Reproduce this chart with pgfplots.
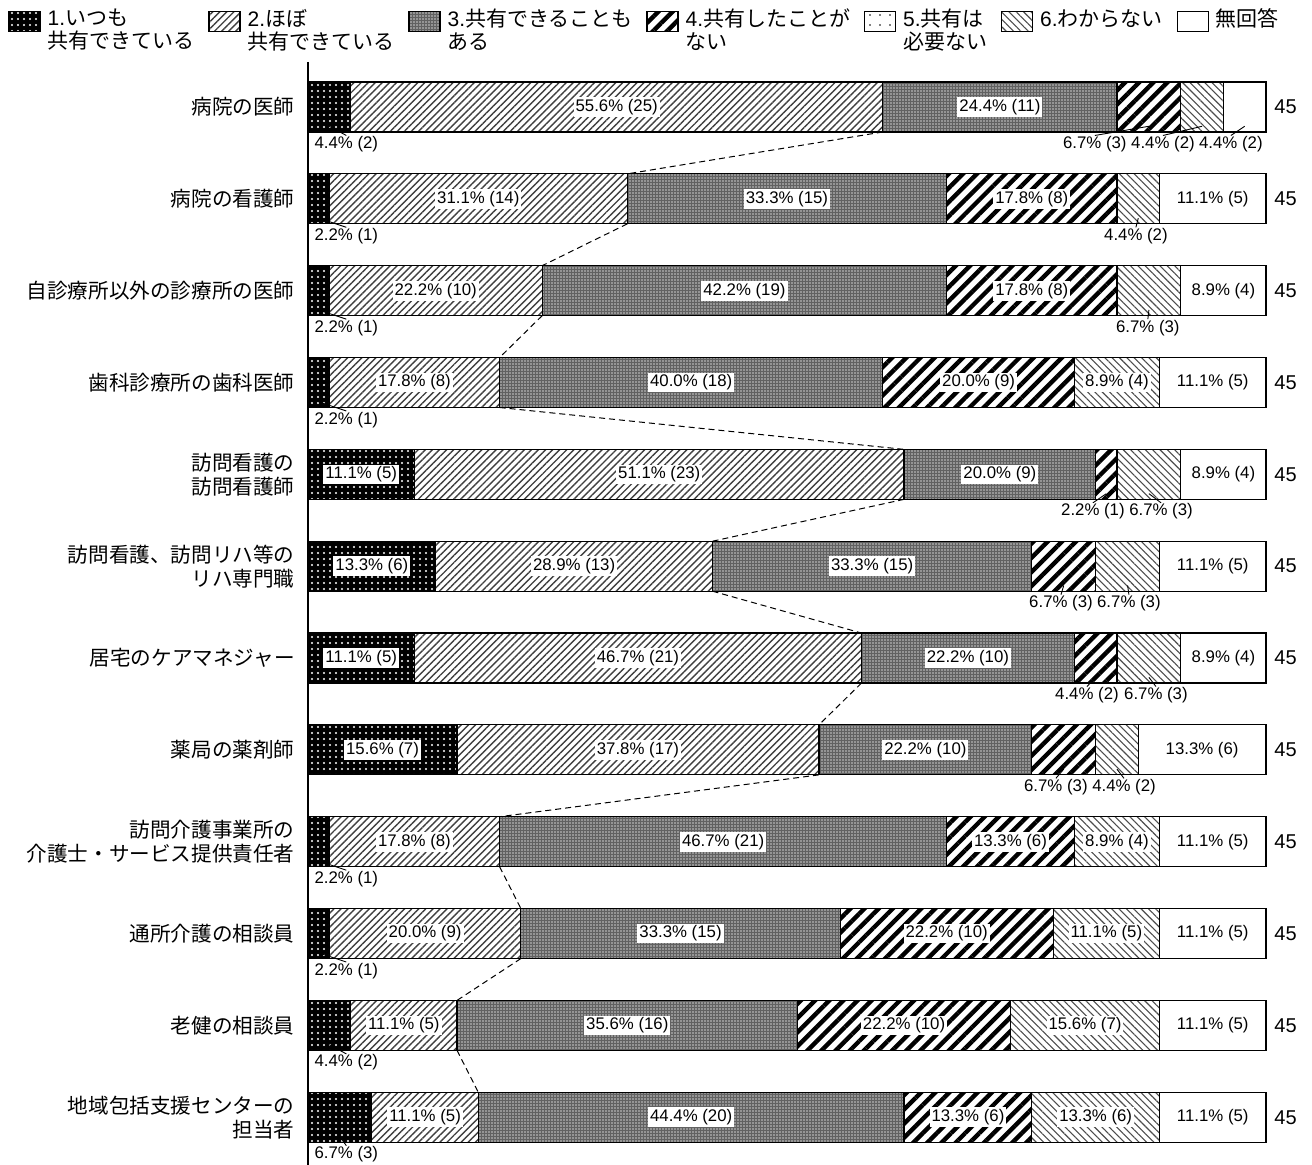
\documentclass[border=0pt]{standalone}
\usepackage{fontspec}
\setmainfont{Liberation Sans}
\newfontfamily\jp{Noto Sans CJK JP}
\usepackage{pgfplots}
\usepackage{pgfplotstable}
\pgfplotsset{compat=1.18}
\usetikzlibrary{patterns,patterns.meta}

\newcommand\lab{\fontsize{8.4}{10}\selectfont}
\newcommand\J[1]{{\jp #1}}
\setlength\fboxsep{1pt}

% counts (n) and percent labels (p), one row per category
\pgfplotstableread{
row n1 n2 n3 n4 n5 n6 n7 p1 p2 p3 p4 p5 p6 p7
1 2 25 11 3 0 2 2 4.4 55.6 24.4 6.7 0.0 4.4 4.4
2 1 14 15 8 0 2 5 2.2 31.1 33.3 17.8 0.0 4.4 11.1
3 1 10 19 8 0 3 4 2.2 22.2 42.2 17.8 0.0 6.7 8.9
4 1 8 18 9 0 4 5 2.2 17.8 40.0 20.0 0.0 8.9 11.1
5 5 23 9 1 0 3 4 11.1 51.1 20.0 2.2 0.0 6.7 8.9
6 6 13 15 3 0 3 5 13.3 28.9 33.3 6.7 0.0 6.7 11.1
7 5 21 10 2 0 3 4 11.1 46.7 22.2 4.4 0.0 6.7 8.9
8 7 17 10 3 0 2 6 15.6 37.8 22.2 6.7 0.0 4.4 13.3
9 1 8 21 6 0 4 5 2.2 17.8 46.7 13.3 0.0 8.9 11.1
10 1 9 15 10 0 5 5 2.2 20.0 33.3 22.2 0.0 11.1 11.1
11 2 5 16 10 0 7 5 4.4 11.1 35.6 22.2 0.0 15.6 11.1
12 3 5 20 6 0 6 5 6.7 11.1 44.4 13.3 0.0 13.3 11.1
}\data

\pgfplotsset{
  seg/.style={
    visualization depends on={\thisrow{n#1}\as\cnt},
    visualization depends on={\thisrow{p#1}\as\pct},
    legend image code/.code={\draw[##1, line width=0.6pt] (0pt,-0.3pt) rectangle (15.5pt,9.7pt);},
  },
  geom/.style={scale only axis, width=479pt, height=551.5pt,
    xmin=0, xmax=45, ymin=0.51, ymax=12.52, y dir=reverse, clip=false},
  conn/.style={black, no marks, line width=0.5pt, dash pattern=on 3pt off 2pt},
}

% outside label: row, segment centre, label centre, text
\newcommand\olab[4]{%
  \draw[line width=0.45pt] (axis cs:#2,#1+0.21) -- (axis cs:#3,#1+0.31);
  \node[font=\lab, inner sep=0pt] at (axis cs:#3,#1+0.405) {#4};}

\begin{document}
\begin{tikzpicture}
\begin{axis}[
  geom,
  xbar stacked, bar width=25pt,
  axis x line=none, axis y line*=left,
  axis line style={line width=0.7pt},
  xtick=\empty, ytick={1,...,12},
  major tick length=0pt,
  yticklabels={
    {病院の医師},{病院の看護師},{自診療所以外の診療所の医師},{歯科診療所の歯科医師},
    {訪問看護の\\訪問看護師},{訪問看護、訪問リハ等の\\リハ専門職},{居宅のケアマネジャー},
    {薬局の薬剤師},{訪問介護事業所の\\介護士・サービス提供責任者},{通所介護の相談員},
    {老健の相談員},{地域包括支援センターの\\担当者}},
  yticklabel style={font=\jp\fontsize{10.3}{12}\selectfont, align=right, inner sep=0pt, xshift=-6.5pt},
  /pgf/number format/assume math mode=true,
  nodes near coords={\ifdim\cnt pt>3.5pt \colorbox{white}{\pgfmathprintnumber[fixed,fixed zerofill,precision=1]{\pct}\%~(\pgfmathprintnumber[fixed,precision=0]{\cnt})}\fi},
  every node near coord/.append style={font=\lab, inner sep=0pt, anchor=center},
  legend columns=7,
  legend style={draw=none, fill=none, at={(0,1)}, anchor=south west,
    xshift=-150pt, yshift=2.5pt, inner sep=0pt,
    font=\fontsize{10.5}{11.5}\selectfont,
    cells={anchor=west, align=left},
    /tikz/every odd column/.append style={column sep=1.5pt},
    /tikz/every even column/.append style={column sep=4.9pt}},
]
\addplot[seg=1, draw=black, line width=0.6pt, fill=black,
  postaction={pattern={Dots[distance=3pt,radius=0.55pt]}, pattern color=white}]
  table[x=n1,y=row]{\data};
\addlegendentry{1.\J{いつも}\\\J{共有できている}}
\addplot[seg=2, draw=black, line width=0.6pt,
  pattern={Lines[angle=45,distance=2.5pt,line width=0.7pt]}, pattern color=black!75]
  table[x=n2,y=row]{\data};
\addlegendentry{2.\J{ほぼ}\\\J{共有できている}}
\addplot[seg=3, draw=black, line width=0.6pt, fill=black!62,
  postaction={pattern={Dots[distance=1.5pt,radius=0.45pt]}, pattern color=black!20}]
  table[x=n3,y=row]{\data};
\addlegendentry{3.\J{共有できることも}\\\J{ある}}
\addplot[seg=4, draw=black, line width=0.6pt,
  pattern={Lines[angle=45,distance=5pt,line width=2.2pt]}, pattern color=black]
  table[x=n4,y=row]{\data};
\addlegendentry{4.\J{共有したことが}\\\J{ない}}
\addplot[seg=5, draw=black, line width=0.6pt,
  pattern={Dots[distance=5pt,radius=0.45pt]}, pattern color=black]
  table[x=n5,y=row]{\data};
\addlegendentry{5.\J{共有は}\\\J{必要ない}}
\addplot[seg=6, draw=black, line width=0.6pt,
  pattern={Lines[angle=-45,distance=2.6pt,line width=0.55pt]}, pattern color=black!70]
  table[x=n6,y=row]{\data};
\addlegendentry{6.\J{わからない}\\\mbox{}}
\addplot[seg=7, draw=black, line width=0.6pt, fill=white]
  table[x=n7,y=row]{\data};
\addlegendentry{\J{無回答}\\\mbox{}}
\pgfplotsinvokeforeach{1,...,12}{
  \node[anchor=west, font=\fontsize{10}{12}\selectfont, inner sep=0pt, xshift=4pt] at (axis cs:45,#1) {45};}
\coordinate (TL) at (axis cs:0,0.51);
\end{axis}

\begin{axis}[geom, hide axis]
\addplot[conn] coordinates {(27,1.272) (15,1.728)};
\addplot[conn] coordinates {(15,2.272) (11,2.728)};
\addplot[conn] coordinates {(11,3.272) (9,3.728)};
\addplot[conn] coordinates {(9,4.272) (28,4.728)};
\addplot[conn] coordinates {(28,5.272) (19,5.728)};
\addplot[conn] coordinates {(19,6.272) (26,6.728)};
\addplot[conn] coordinates {(26,7.272) (24,7.728)};
\addplot[conn] coordinates {(24,8.272) (9,8.728)};
\addplot[conn] coordinates {(9,9.272) (10,9.728)};
\addplot[conn] coordinates {(10,10.272) (7,10.728)};
\addplot[conn] coordinates {(7,11.272) (8,11.728)};
\olab{1}{1}{1.8}{4.4\%~(2)}
\olab{1}{39.5}{36.96}{6.7\%~(3)}
\olab{1}{42}{40.16}{4.4\%~(2)}
\olab{1}{44}{43.35}{4.4\%~(2)}
\olab{2}{0.5}{1.8}{2.2\%~(1)}
\olab{2}{39}{38.89}{4.4\%~(2)}
\olab{3}{0.5}{1.8}{2.2\%~(1)}
\olab{3}{39.5}{39.45}{6.7\%~(3)}
\olab{4}{0.5}{1.8}{2.2\%~(1)}
\olab{5}{37.5}{36.87}{2.2\%~(1)}
\olab{5}{39.5}{40.07}{6.7\%~(3)}
\olab{6}{35.5}{35.37}{6.7\%~(3)}
\olab{6}{38.5}{38.56}{6.7\%~(3)}
\olab{7}{37}{36.59}{4.4\%~(2)}
\olab{7}{39.5}{39.83}{6.7\%~(3)}
\olab{8}{35.5}{35.13}{6.7\%~(3)}
\olab{8}{38}{38.33}{4.4\%~(2)}
\olab{9}{0.5}{1.8}{2.2\%~(1)}
\olab{10}{0.5}{1.8}{2.2\%~(1)}
\olab{11}{1}{1.8}{4.4\%~(2)}
\olab{12}{1.5}{1.8}{6.7\%~(3)}
\end{axis}
\pgfresetboundingbox
\path[use as bounding box] ([xshift=-154pt,yshift=31pt]TL) rectangle ++(656pt,-582.5pt);
\end{tikzpicture}
\end{document}
